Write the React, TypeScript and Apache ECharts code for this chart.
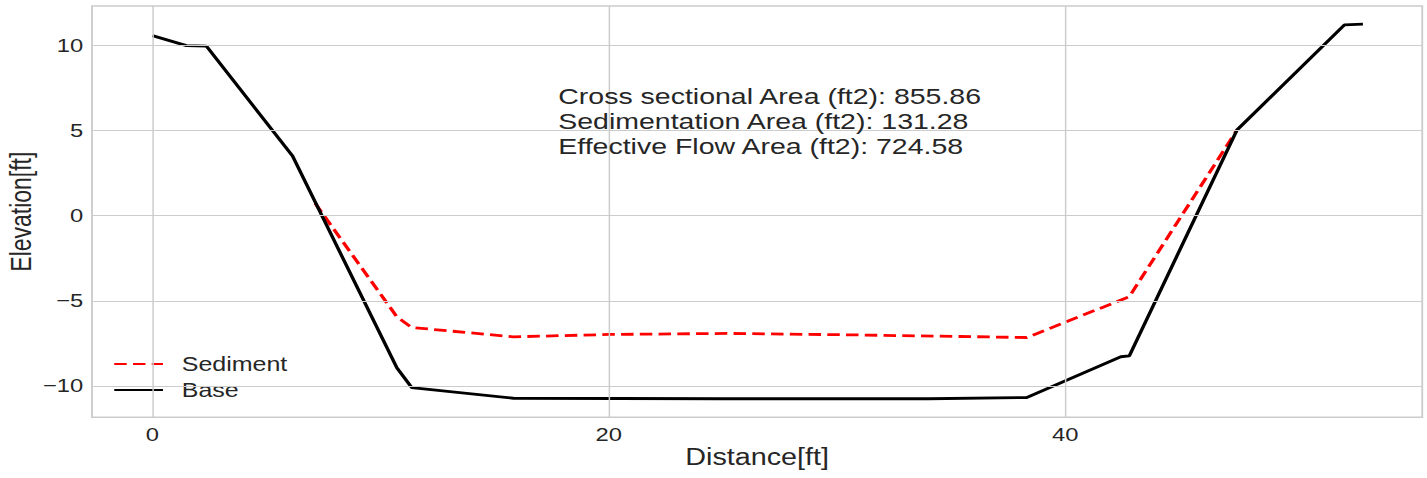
import React, { useEffect, useRef } from "react";
import * as echarts from "echarts";

// ---- data ----
const baseDistance = [0, 1.49, 2.37, 6.14, 10.71, 11.36, 15.82, 25.0, 34.0, 38.32, 42.44, 42.81, 47.53, 52.24, 53.05];
const baseElevation = [10.59, 10.0, 9.97, 3.51, -8.94, -10.1, -10.73, -10.76, -10.76, -10.69, -8.29, -8.24, 5.04, 11.22, 11.26];

const sedimentDistance = [7.13, 10.71, 11.36, 15.82, 20.0, 25.2, 30.45, 35.4, 38.32, 42.81, 47.53];
const sedimentElevation = [0.73, -5.94, -6.57, -7.12, -6.98, -6.92, -7.0, -7.1, -7.16, -4.76, 5.04];

const xTicks = [0, 20, 40];
const yTicks = [-10, -5, 0, 5, 10];

const annotationLines = [
  "Cross sectional Area (ft2): 855.86",
  "Sedimentation Area (ft2): 131.28",
  "Effective Flow Area (ft2): 724.58",
];

const STRETCH = 1.25;
const PAGE_W = 1427;
const PAGE_H = 478;
const FONT = '"Liberation Sans", Arial, sans-serif';
const TEXT = "#262626";
const GRID = "#cccccc";

const pairs = (xs: number[], ys: number[]) => xs.map((x, i) => [x, ys[i]]);
const fmt = (v: number) => String(v).replace("-", "\u2212");

export default function App() {
  const ref = useRef<HTMLDivElement>(null);

  useEffect(() => {
    document.body.style.margin = "0";
    document.body.style.overflow = "hidden";
    const chart = echarts.init(ref.current!, null, { renderer: "svg" });
    chart.setOption({
      animation: false,
      backgroundColor: "#ffffff",
      grid: {
        left: 73.6,
        right: 4.2,
        top: 6,
        bottom: 60.7,
        containLabel: false,
        outerBoundsMode: "none",
        show: true,
        borderColor: GRID,
        borderWidth: 1.5,
      },
      xAxis: {
        type: "value",
        min: -2.65,
        max: 55.65,
        name: "Distance[ft]",
        nameLocation: "middle",
        nameGap: 28,
        nameMoveOverlap: false,
        nameTextStyle: { fontFamily: FONT, fontSize: 23, color: TEXT },
        axisLine: { show: false },
        axisTick: { show: false, customValues: xTicks },
        axisLabel: {
          customValues: xTicks,
          fontFamily: FONT,
          fontSize: 19,
          color: TEXT,
          margin: 8,
          formatter: (v: number) => fmt(v),
        },
        splitLine: { show: false },
      },
      yAxis: {
        type: "value",
        min: -11.85,
        max: 12.33,
        name: "Elevation[ft]",
        nameLocation: "middle",
        nameGap: 45,
        nameMoveOverlap: false,
        nameTextStyle: { fontFamily: FONT, fontSize: 23, color: TEXT },
        axisLine: { show: false },
        axisTick: { show: false, customValues: yTicks },
        axisLabel: {
          customValues: yTicks,
          fontFamily: FONT,
          fontSize: 19,
          color: TEXT,
          margin: 7,
          formatter: (v: number) => fmt(v),
        },
        splitLine: { show: false },
      },
      legend: {
        orient: "vertical",
        left: 85.4,
        top: 349,
        itemWidth: 39,
        itemHeight: 14,
        itemGap: 6,
        itemStyle: { opacity: 0 },
        data: ["Sediment", "Base"],
        textStyle: { fontFamily: FONT, fontSize: 20, color: TEXT, padding: [0, 0, 0, 10] },
      },
      graphic: [
        {
          type: "text",
          left: 446.6,
          top: 84,
          z: 10,
          style: {
            text: annotationLines.join("\n"),
            fontFamily: FONT,
            fontSize: 22.8,
            lineHeight: 25,
            fill: TEXT,
          },
        },
      ],
      series: [
        {
          name: "gridX",
          type: "line",
          data: [],
          silent: true,
          markLine: {
            silent: true,
            symbol: "none",
            label: { show: false },
            lineStyle: { color: GRID, width: 1.2, type: "solid" },
            data: [
              ...xTicks.map((v) => ({ xAxis: v })),
              ...yTicks.map((v) => ({ yAxis: v })),
            ],
          },
        },
        {
          name: "Sediment",
          type: "line",
          data: pairs(sedimentDistance, sedimentElevation),
          symbol: "none",
          lineStyle: { color: "#ff0000", width: 2.8, type: [10, 5] },
          itemStyle: { color: "#ff0000" },
          z: 3,
        },
        {
          name: "Base",
          type: "line",
          data: pairs(baseDistance, baseElevation),
          symbol: "none",
          lineStyle: { color: "#000000", width: 2.8 },
          itemStyle: { color: "#000000" },
          z: 4,
        },
      ],
    });
    return () => chart.dispose();
  }, []);

  return (
    <div
      ref={ref}
      style={{
        position: "absolute",
        left: 0,
        top: 0,
        width: PAGE_W / STRETCH,
        height: PAGE_H,
        transform: `scaleX(${STRETCH})`,
        transformOrigin: "0 0",
      }}
    />
  );
}
